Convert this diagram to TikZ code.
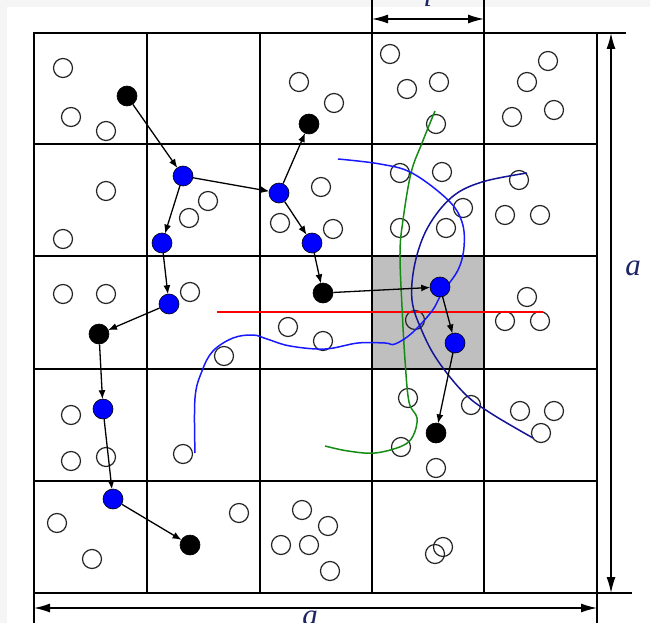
\documentclass[tikz,border=0pt]{standalone}
\usepackage{fontspec}
\newfontfamily\labfont{Liberation Serif}
\usetikzlibrary{arrows.meta}
\begin{document}
\begin{tikzpicture}[x=1pt,y=-1pt,
  ocirc/.style={circle,draw=black!85,line width=1.2pt,minimum size=19pt,inner sep=0pt},
  blk/.style={circle,fill=black,draw=black,line width=0.6pt,minimum size=20pt,inner sep=0pt},
  bdot/.style={circle,fill=blue,draw=black,line width=0.6pt,minimum size=20pt,inner sep=0pt},
  conn/.style={-{Latex[length=9pt,width=7pt]},line width=1.3pt,shorten >=-0.5pt},
  dimline/.style={{Latex[length=16pt,width=9pt]}-{Latex[length=16pt,width=9pt]},line width=1.4pt},
  ext/.style={line width=1.3pt},
  gridline/.style={line width=1.5pt},
  lab/.style={inner sep=0pt,text=labcol,font=\labfont\itshape\fontsize{31}{33}\selectfont},
  crv/.style={line width=1.5pt}
]
\definecolor{labcol}{RGB}{28,36,100}
\definecolor{grn}{RGB}{20,140,20}
\definecolor{lblue}{RGB}{25,25,255}
\definecolor{dblue}{RGB}{20,20,150}
\useasboundingbox (0,0) rectangle (650,623);
\fill[gray!8] (0,0) rectangle (650,7);
\fill[gray!8] (0,0) rectangle (7,623);
% shaded cell
\fill[gray!50] (372,256) rectangle (484,369);
% grid
\draw[gridline] (34,33) rectangle (597,593);
\foreach \x in {147,260,372,484} \draw[gridline] (\x,33) -- (\x,593);
\foreach \y in {144,256,369,481} \draw[gridline] (34,\y) -- (597,\y);
% extension lines
\draw[ext] (372,0) -- (372,33);
\draw[ext] (484,0) -- (484,33);
\draw[ext] (597,33) -- (626,33);
\draw[ext] (597,593) -- (632,593);
\draw[ext] (34,593) -- (34,623);
\draw[ext] (597,593) -- (597,623);
% dimension arrows
\coordinate (t1) at (372,19); \coordinate (t2) at (484,19);
\coordinate (r1) at (611,33); \coordinate (r2) at (611,593);
\coordinate (d1) at (34,608); \coordinate (d2) at (597,608);
\draw[dimline] (t1) -- (t2);
\draw[dimline] (r1) -- (r2);
\draw[dimline] (d1) -- (d2);
\node[lab,anchor=base] (ll) at (428,7) {l};
\node[lab] (la1) at (633,268) {a};
\node[lab,anchor=north] (la2) at (310,611) {a};
% open circles
\foreach \p [count=\i] in {(63,68),(71,117),(106,131),(299,82),(334,103),(390,54),(407,89),(439,82),(436,124),(548,61),(527,82),(512,117),(554,110),
 (106,191),(63,239),(208,201),(189,218),(321,187),(280,223),(333,229),(400,173),(442,172),(463,208),(400,228),(446,228),(519,180),(505,215),(540,215),
 (63,294),(106,294),(190,292),(224,356),(288,327),(323,341),(415,320),(527,297),(505,321),(540,321),
 (71,415),(71,461),(106,457),(183,454),(408,398),(471,405),(401,447),(436,468),(520,411),(554,411),(541,433),
 (57,523),(92,559),(239,513),(302,510),(328,526),(281,545),(309,545),(330,571),(435,554),(443,547)}
  \node[ocirc] (o\i) at \p {};
% curves
\draw[crv,red] (217,312) -- (543,312);
\draw[crv,grn] plot[smooth,tension=0.6] coordinates {(435,111) (422,143) (411,173) (403,220) (400,253) (402,307) (405,360) (409,402) (417,418) (413,436) (402,446) (375,453) (348,451) (325,446)};
\draw[crv,lblue] plot[smooth,tension=0.6] coordinates {(338,159) (380,164) (412,173) (448,200) (462,222) (464,247) (458,270) (442,293) (432,311) (412,333) (395,344) (385,343) (358,343) (325,349) (290,346) (267,339) (253,335) (233,338) (213,351) (202,371) (195,398) (195,453)};
\draw[crv,dblue] plot[smooth,tension=0.6] coordinates {(527,173) (482,182) (452,197) (428,227) (415,263) (412,300) (422,331) (438,361) (465,394) (492,414) (533,438)};
% filled nodes
\node[blk] (k1) at (127,96) {};
\node[blk] (k2) at (309,124) {};
\node[blk] (k3) at (323,293) {};
\node[blk] (k4) at (99,334) {};
\node[blk] (k5) at (436,433) {};
\node[blk] (k6) at (190,545) {};
\node[bdot] (b1) at (183,176) {};
\node[bdot] (b2) at (162,243) {};
\node[bdot] (b3) at (279,193) {};
\node[bdot] (b4) at (312,243) {};
\node[bdot] (b5) at (169,304) {};
\node[bdot] (b6) at (440,287) {};
\node[bdot] (b7) at (455,343) {};
\node[bdot] (b8) at (103,409) {};
\node[bdot] (b9) at (113,499) {};
% connectors
\draw[conn] (k1) -- (b1);
\draw[conn] (b1) -- (b3);
\draw[conn] (b1) -- (b2);
\draw[conn] (b3) -- (k2);
\draw[conn] (b3) -- (b4);
\draw[conn] (b4) -- (k3);
\draw[conn] (k3) -- (b6);
\draw[conn] (b6) -- (b7);
\draw[conn] (b7) -- (k5);
\draw[conn] (b2) -- (b5);
\draw[conn] (b5) -- (k4);
\draw[conn] (k4) -- (b8);
\draw[conn] (b8) -- (b9);
\draw[conn] (b9) -- (k6);
\end{tikzpicture}
\end{document}
